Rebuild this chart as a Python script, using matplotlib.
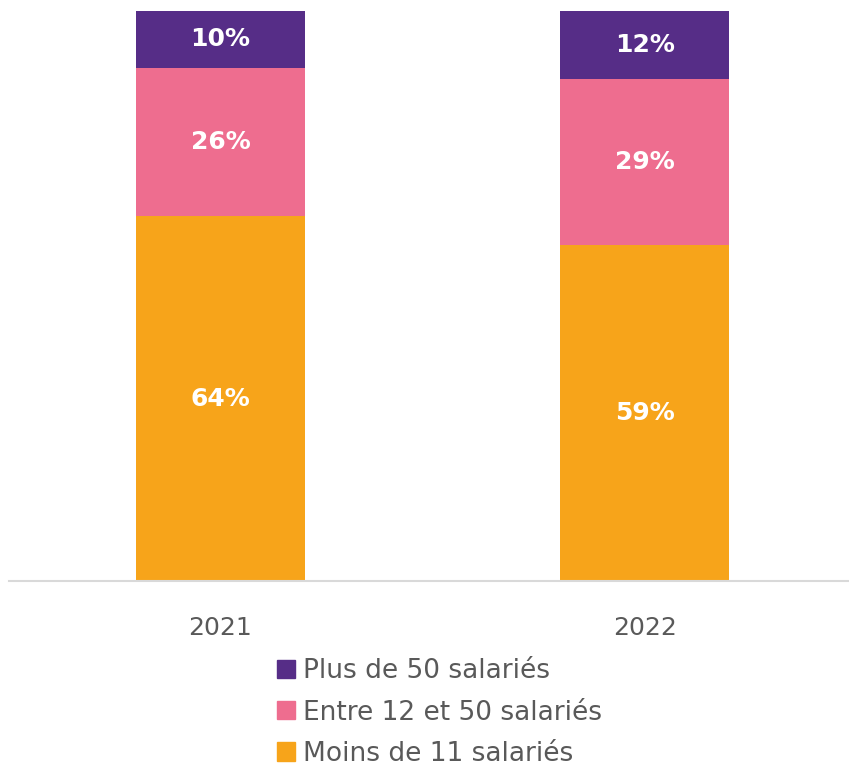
import matplotlib.pyplot as plt
from matplotlib.patches import Patch

# Data
years = ["2021", "2022"]
moins_11 = [64, 59]
entre_12_50 = [26, 29]
plus_50 = [10, 12]
series_names = ["Moins de 11 salariés", "Entre 12 et 50 salariés", "Plus de 50 salariés"]

colors = ["#f7a41a", "#ee6d8f", "#562d87"]
text_grey = "#595959"

plt.rcParams['font.family'] = ['DejaVu Sans']

fig = plt.figure(figsize=(8.49, 7.68), dpi=100)
ax = fig.add_axes([9 / 849, 1 - 581 / 768, 1 - 9 / 849, (581 - 11) / 768])

x = range(len(years))
width = 0.398
bottom = [0] * len(years)
for values, color in zip([moins_11, entre_12_50, plus_50], colors):
    bars = ax.bar(x, values, width, bottom=bottom, color=color, edgecolor='none')
    for rect, v, b in zip(bars, values, bottom):
        ax.text(rect.get_x() + rect.get_width() / 2, b + v / 2, f"{v}%",
                ha='center', va='center', color='white', fontsize=18, fontweight='bold')
    bottom = [b + v for b, v in zip(bottom, values)]

ax.set_xlim(-0.498, 1.4806)
ax.set_ylim(0, 100)
ax.set_xticks(list(x))
ax.set_xticklabels(years, fontsize=18, color=text_grey)
ax.tick_params(axis='x', length=0, pad=25.5)
ax.set_yticks([])
for side in ['top', 'right', 'left']:
    ax.spines[side].set_visible(False)
ax.spines['bottom'].set_color('#d9d9d9')
ax.spines['bottom'].set_linewidth(1.5)

# Legend, top entry first
handles = [Patch(color=c) for c in colors][::-1]
fig.legend(handles, series_names[::-1], loc='upper left', bbox_to_anchor=(264 / 849, 1 - 645 / 768),
           frameon=False, fontsize=19, labelcolor=text_grey, handlelength=0.68, handleheight=0.68,
           handletextpad=0.3, labelspacing=0.58, borderpad=0)

plt.savefig("out.png", dpi=100)
